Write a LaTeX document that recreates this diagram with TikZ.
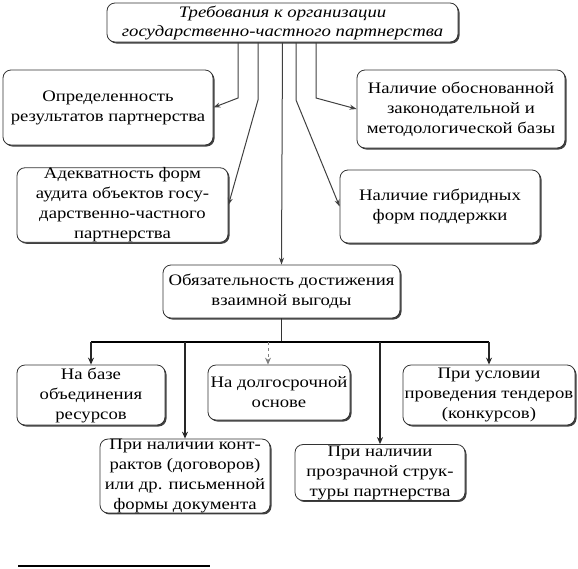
\documentclass[tikz,border=0pt]{standalone}
\usepackage{fontspec}
\setmainfont[FakeStretch=1.17]{Liberation Serif}
\usetikzlibrary{arrows.meta,shadows}

\tikzset{
  box/.style={draw=black!80, fill=white, rounded corners=8pt, align=center,
    inner sep=1pt, line width=0.8pt,
    drop shadow={shadow xshift=1.5pt, shadow yshift=-1.5pt, fill=black!75, opacity=1},
    font=\fontsize{16}{20}\selectfont},
  link/.style={draw=black!75, line width=1pt, -{Stealth[length=7pt,width=5pt]}},
  down/.style={draw=black!85, line width=1.6pt, -{Stealth[length=7pt,width=6pt]}}
}

\begin{document}
\begin{tikzpicture}[x=1pt, y=-1pt]
	\useasboundingbox (0,0) rectangle (578,568);
	% top block
	\node[box, minimum width=351pt, minimum height=39pt, font=\fontsize{16}{19}\selectfont\itshape] (req) at (282.5,22.5)
		{Требования к организации\\государственно-частного партнерства};
	\node[box, minimum width=210pt, minimum height=75pt] (res) at (108,107.5)
		{Определенность\\результатов партнерства};
	\node[box, minimum width=208pt, minimum height=78pt] (base) at (461,109)
		{Наличие обоснованной\\законодательной и\\методологической базы};
	\node[box, minimum width=211pt, minimum height=70pt, inner sep=0pt] (audit) at (122.5,205)
		{Адекватность форм\\аудита объектов госу-\\дарственно-частного\\партнерства};
	\node[box, minimum width=200pt, minimum height=73pt] (hyb) at (440,206.5)
		{Наличие гибридных\\форм поддержки};
	\node[box, minimum width=237pt, minimum height=53pt] (must) at (281.5,291.5)
		{Обязательность достижения\\взаимной выгоды};
	% bottom row
	\node[box, minimum width=148pt, minimum height=60pt] (n1) at (91,395)
		{На базе\\объединения\\ресурсов};
	\node[box, minimum width=170pt, minimum height=62pt, inner sep=0pt] (n2) at (185,476)
		{При наличии конт-\\рактов (договоров)\\или др. письменной\\формы документа};
	\node[box, minimum width=142pt, minimum height=55pt] (n3) at (279,392.5)
		{На долгосрочной\\основе};
	\node[box, minimum width=170pt, minimum height=55pt] (n4) at (380,472.5)
		{При наличии\\прозрачной струк-\\туры партнерства};
	\node[box, minimum width=172pt, minimum height=60pt] (n5) at (489,395)
		{При условии\\проведения тендеров\\(конкурсов)};

	% bends of the upper links
	\coordinate (b1) at (238,98);
	\coordinate (b2) at (258,100);
	\coordinate (b4) at (296,100);
	\coordinate (b5) at (316,98);
	\coordinate (bar) at (0,342);
	\coordinate (t3) at (268,0);

	\draw[link] (b1 |- req.south) -- (b1) -- (res.east);
	\draw[link] (b2 |- req.south) -- (b2) -- (audit.east);
	\draw[link] (b4 |- req.south) -- (b4) -- (hyb.west);
	\draw[link] (b5 |- req.south) -- (b5) -- (base.west);
	\draw[link] (req.south) -- (must.north);

	\draw[draw=black!80, line width=1pt] (must.south) -- (must.south |- bar);
	\draw[line width=2.2pt] (n1.north |- bar) -- (n5.north |- bar);
	\draw[down] (n1.north |- bar) -- (n1.north);
	\draw[down] (n2.north |- bar) -- (n2.north);
	\draw[down, draw=black!50, line width=0.8pt, dashed] (t3 |- bar) -- (t3 |- n3.north);
	\draw[down] (n4.north |- bar) -- (n4.north);
	\draw[down] (n5.north |- bar) -- (n5.north);

	\draw[line width=1.2pt] (18,566) -- (210,566);
\end{tikzpicture}
\end{document}
